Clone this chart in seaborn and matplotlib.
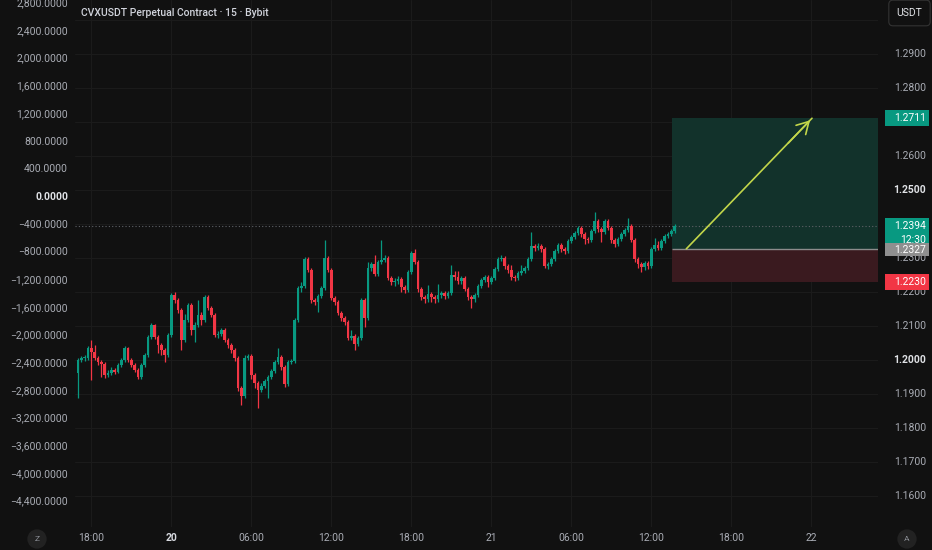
import numpy as np
import pandas as pd
import matplotlib
matplotlib.use("Agg")
import matplotlib.pyplot as plt
import matplotlib.transforms as mtransforms
from matplotlib.patches import Rectangle
import seaborn as sns

# ---------------- data ----------------
title = "CVXUSDT Perpetual Contract · 15 · Bybit"
first_open = 1.1962
closes = [
    1.2000, 1.2006, 1.2006, 1.2035, 1.2024, 1.2006, 1.1994, 1.1988, 1.1956, 1.1962,
    1.1971, 1.1965, 1.1985, 1.2000, 1.2035, 1.2000, 1.1985, 1.1971, 1.1950, 1.1985,
    1.2015, 1.2068, 1.2103, 1.2068, 1.2044, 1.2029, 1.2015, 1.2074, 1.2191, 1.2176,
    1.2147, 1.2059, 1.2118, 1.2162, 1.2088, 1.2103, 1.2132, 1.2118, 1.2185, 1.2153,
    1.2132, 1.2074, 1.2076, 1.2088, 1.2059, 1.2044, 1.2029, 1.2006, 1.1918, 1.1894,
    1.2006, 1.2012, 1.1956, 1.1932, 1.1912, 1.1924, 1.1938, 1.1950, 1.1968, 1.1994,
    1.2009, 1.1979, 1.1929, 1.1994, 1.1997, 1.2118, 1.2212, 1.2218, 1.2297, 1.2265,
    1.2176, 1.2171, 1.2188, 1.2212, 1.2300, 1.2265, 1.2182, 1.2171, 1.2138, 1.2123,
    1.2112, 1.2065, 1.2071, 1.2047, 1.2065, 1.2176, 1.2123, 1.2270, 1.2282, 1.2253,
    1.2288, 1.2294, 1.2300, 1.2241, 1.2229, 1.2232, 1.2238, 1.2215, 1.2206, 1.2259,
    1.2315, 1.2288, 1.2209, 1.2185, 1.2179, 1.2194, 1.2185, 1.2179, 1.2191, 1.2197,
    1.2188, 1.2197, 1.2250, 1.2244, 1.2232, 1.2241, 1.2209, 1.2185, 1.2179, 1.2191,
    1.2218, 1.2235, 1.2244, 1.2229, 1.2241, 1.2268, 1.2297, 1.2300, 1.2276, 1.2265,
    1.2244, 1.2241, 1.2256, 1.2262, 1.2270, 1.2297, 1.2335, 1.2329, 1.2335, 1.2326,
    1.2276, 1.2282, 1.2297, 1.2320, 1.2338, 1.2326, 1.2320, 1.2350, 1.2362, 1.2373,
    1.2388, 1.2370, 1.2356, 1.2353, 1.2379, 1.2409, 1.2385, 1.2376, 1.2409, 1.2388,
    1.2353, 1.2341, 1.2356, 1.2370, 1.2382, 1.2394, 1.2353, 1.2297, 1.2282, 1.2273,
    1.2285, 1.2276, 1.2326, 1.2338, 1.2329, 1.2350, 1.2365, 1.2370, 1.2379, 1.2394,
]
highs = [
    1.2006, 1.2012, 1.2015, 1.2041, 1.2059, 1.2044, 1.2012, 1.2000, 1.1994, 1.1971,
    1.1979, 1.1977, 1.1991, 1.2006, 1.2041, 1.2038, 1.2006, 1.1991, 1.1977, 1.1991,
    1.2021, 1.2074, 1.2109, 1.2106, 1.2074, 1.2050, 1.2035, 1.2080, 1.2197, 1.2200,
    1.2182, 1.2153, 1.2135, 1.2168, 1.2168, 1.2112, 1.2176, 1.2141, 1.2191, 1.2191,
    1.2159, 1.2138, 1.2085, 1.2094, 1.2094, 1.2065, 1.2050, 1.2035, 1.2012, 1.1924,
    1.2015, 1.2018, 1.2018, 1.1962, 1.1938, 1.1932, 1.1944, 1.1956, 1.1974, 1.2000,
    1.2035, 1.2015, 1.1985, 1.2000, 1.2003, 1.2124, 1.2218, 1.2229, 1.2303, 1.2303,
    1.2271, 1.2182, 1.2194, 1.2218, 1.2353, 1.2306, 1.2271, 1.2188, 1.2176, 1.2144,
    1.2129, 1.2118, 1.2088, 1.2076, 1.2071, 1.2182, 1.2182, 1.2288, 1.2288, 1.2309,
    1.2294, 1.2353, 1.2309, 1.2306, 1.2247, 1.2241, 1.2247, 1.2244, 1.2221, 1.2265,
    1.2321, 1.2326, 1.2294, 1.2215, 1.2191, 1.2221, 1.2200, 1.2191, 1.2224, 1.2203,
    1.2203, 1.2203, 1.2279, 1.2262, 1.2262, 1.2247, 1.2247, 1.2215, 1.2191, 1.2197,
    1.2224, 1.2241, 1.2250, 1.2250, 1.2247, 1.2274, 1.2303, 1.2309, 1.2306, 1.2282,
    1.2279, 1.2250, 1.2262, 1.2279, 1.2276, 1.2303, 1.2376, 1.2341, 1.2344, 1.2341,
    1.2332, 1.2288, 1.2303, 1.2326, 1.2344, 1.2344, 1.2332, 1.2356, 1.2368, 1.2379,
    1.2394, 1.2394, 1.2376, 1.2362, 1.2385, 1.2435, 1.2415, 1.2391, 1.2415, 1.2415,
    1.2394, 1.2359, 1.2362, 1.2376, 1.2388, 1.2418, 1.2400, 1.2359, 1.2303, 1.2288,
    1.2291, 1.2291, 1.2332, 1.2359, 1.2350, 1.2356, 1.2371, 1.2376, 1.2385, 1.2400,
]
lows = [
    1.1888, 1.1994, 1.1997, 1.2000, 1.1941, 1.2000, 1.1985, 1.1950, 1.1947, 1.1950,
    1.1956, 1.1959, 1.1962, 1.1979, 1.1994, 1.1994, 1.1979, 1.1965, 1.1944, 1.1944,
    1.1979, 1.2009, 1.2062, 1.2062, 1.2021, 1.2015, 1.1994, 1.2009, 1.2068, 1.2168,
    1.2138, 1.2029, 1.2053, 1.2112, 1.2074, 1.2053, 1.2097, 1.2103, 1.2112, 1.2147,
    1.2126, 1.2068, 1.2065, 1.2071, 1.2053, 1.2035, 1.2021, 1.1997, 1.1909, 1.1868,
    1.1888, 1.2000, 1.1944, 1.1918, 1.1859, 1.1906, 1.1918, 1.1888, 1.1944, 1.1962,
    1.1988, 1.1971, 1.1921, 1.1924, 1.1988, 1.1991, 1.2112, 1.2200, 1.2212, 1.2259,
    1.2168, 1.2162, 1.2141, 1.2182, 1.2206, 1.2259, 1.2176, 1.2162, 1.2132, 1.2115,
    1.2103, 1.2059, 1.2059, 1.2029, 1.2041, 1.2059, 1.2097, 1.2118, 1.2262, 1.2247,
    1.2247, 1.2282, 1.2288, 1.2235, 1.2221, 1.2218, 1.2224, 1.2200, 1.2197, 1.2200,
    1.2253, 1.2282, 1.2200, 1.2176, 1.2168, 1.2171, 1.2171, 1.2168, 1.2171, 1.2182,
    1.2179, 1.2182, 1.2191, 1.2235, 1.2224, 1.2224, 1.2203, 1.2176, 1.2153, 1.2171,
    1.2185, 1.2212, 1.2229, 1.2215, 1.2224, 1.2235, 1.2262, 1.2291, 1.2268, 1.2256,
    1.2235, 1.2232, 1.2235, 1.2250, 1.2256, 1.2265, 1.2291, 1.2320, 1.2323, 1.2318,
    1.2270, 1.2268, 1.2276, 1.2291, 1.2315, 1.2318, 1.2312, 1.2315, 1.2344, 1.2356,
    1.2368, 1.2362, 1.2341, 1.2344, 1.2347, 1.2373, 1.2376, 1.2347, 1.2370, 1.2382,
    1.2344, 1.2332, 1.2335, 1.2350, 1.2365, 1.2376, 1.2347, 1.2288, 1.2270, 1.2259,
    1.2265, 1.2268, 1.2270, 1.2320, 1.2323, 1.2323, 1.2344, 1.2359, 1.2365, 1.2373,
]

time_tick_bars = [4, 28, 52, 76, 100, 124, 148, 172, 196, 220]
time_tick_labels = ["18:00", "20", "06:00", "12:00", "18:00", "21", "06:00", "12:00", "18:00", "22"]
right_ticks = [1.29, 1.28, 1.26, 1.25, 1.23, 1.22, 1.21, 1.20, 1.19, 1.18, 1.17, 1.16]
right_bold = [1.25, 1.20]
grid_levels = [1.16, 1.17, 1.18, 1.19, 1.20, 1.21, 1.22, 1.23, 1.24, 1.25, 1.26, 1.27, 1.28, 1.29, 1.30]
left_ticks = [2800, 2400, 2000, 1600, 1200, 800, 400, 0, -400, -800, -1200, -1600,
              -2000, -2400, -2800, -3200, -3600, -4000, -4400]

last_price = 1.2394
countdown = "12:30"
entry_price = 1.2327
target_price = 1.2711
stop_price = 1.2230

# ---------------- style ----------------
BG = "#111111"
GRID = "#1b1b1b"
TXT = "#a9acb4"
UP = "#089981"
DOWN = "#f23645"

sns.set_theme(style="dark", rc={
    "axes.facecolor": BG, "figure.facecolor": BG, "savefig.facecolor": BG,
    "axes.edgecolor": BG, "text.color": TXT, "xtick.color": TXT, "ytick.color": TXT,
})
plt.rcParams["font.family"] = ["Roboto", "DejaVu Sans"]

W, H = 932, 550
fig = plt.figure(figsize=(W / 100, H / 100), dpi=100)
pane_left, pane_right, pane_bottom = 75, 878, 527
pos = [pane_left / W, (H - pane_bottom) / H, (pane_right - pane_left) / W, pane_bottom / H]
ax = fig.add_axes(pos)
ax.set_facecolor(BG)

PX_PER_UNIT = 3400.0  # price-scale pixels per 1.0 of price
bar_px = 80 / 24.0
first_bar_px = 78
ax.set_xlim((pane_left - first_bar_px) / bar_px, (pane_right - first_bar_px) / bar_px)
ax.set_ylim(1.2 - (pane_bottom - 360) / PX_PER_UNIT, 1.2 + 360 / PX_PER_UNIT)

for s in ax.spines.values():
    s.set_visible(False)
ax.set_yticks([])
ax.tick_params(axis="x", length=0, pad=4, labelsize=7.5, labelcolor=TXT)
ax.set_xticks(time_tick_bars)
ax.set_xticklabels(time_tick_labels)
for lab in ax.get_xticklabels():
    if lab.get_text() == "20":
        lab.set_fontweight("bold")
        lab.set_color("#d8dae0")

# grid
for g in grid_levels:
    ax.axhline(g, color=GRID, lw=0.8, zorder=0)
for t in time_tick_bars:
    ax.axvline(t, color=GRID, lw=0.8, zorder=0)

# ---------------- candles ----------------
opens = [first_open] + closes[:-1]
df = pd.DataFrame({"bar": np.arange(len(closes)), "open": opens, "high": highs,
                   "low": lows, "close": closes})
df["up"] = df["close"] >= df["open"]
df["color"] = np.where(df["up"], UP, DOWN)
df["body_lo"] = df[["open", "close"]].min(axis=1)
df["body_h"] = (df["close"] - df["open"]).abs().clip(lower=0.0002)

# position tool (drawn beneath candles)
tool_start, tool_end = 178.2, 240
ax.add_patch(Rectangle((tool_start, entry_price), tool_end - tool_start, target_price - entry_price,
                       facecolor="#12322b", edgecolor="none", zorder=1))
ax.add_patch(Rectangle((tool_start, stop_price), tool_end - tool_start, entry_price - stop_price,
                       facecolor="#3a1a1f", edgecolor="none", zorder=1))
ax.hlines(entry_price, tool_start, tool_end, color="#8c8c8c", lw=1.0, zorder=2)

# current price dotted line
ax.axhline(last_price, color="#5f6268", lw=0.8, ls=(0, (1, 2)), zorder=2)

ax.vlines(df["bar"], df["low"], df["high"], colors=df["color"], lw=0.9, zorder=3)
ax.bar(df["bar"], df["body_h"], bottom=df["body_lo"], width=0.85, color=df["color"],
       linewidth=0, zorder=4)

# arrow (seaborn for the shaft)
arrow_x = [182.5, 220.2]
arrow_y = [entry_price, target_price]
sns.lineplot(x=arrow_x, y=arrow_y, ax=ax, color="#c2d64a", lw=1.2, zorder=5)
ax.annotate("", xy=(arrow_x[1], arrow_y[1]), xytext=(arrow_x[0] + 30, arrow_y[0] + 0.0305),
            arrowprops=dict(arrowstyle="->,head_length=0.7,head_width=0.4", color="#c2d64a", lw=1.2),
            zorder=6)

# ---------------- right price scale ----------------
rtrans = mtransforms.blended_transform_factory(fig.transFigure, ax.transData)
rx = 926 / W
for p in right_ticks:
    bold = p in right_bold
    ax.text(rx, p, f"{p:.4f}", transform=rtrans, ha="right", va="center", fontsize=7.5,
            color="#e0e2e6" if bold else TXT, fontweight="bold" if bold else "normal",
            clip_on=False, zorder=10)

badge_x0, badge_x1 = 885 / W, 929 / W

def badge(top_px_above, bottom_px_below, center, fc, lines, z, text_shift_px=0.0, line_gap_px=14):
    y0 = center - bottom_px_below / PX_PER_UNIT
    h = (top_px_above + bottom_px_below) / PX_PER_UNIT
    ax.add_patch(Rectangle((badge_x0, y0), badge_x1 - badge_x0, h, transform=rtrans,
                           fc=fc, ec="none", clip_on=False, zorder=z))
    for k, t in enumerate(lines):
        ax.text(rx, center - (k * line_gap_px + text_shift_px) / PX_PER_UNIT, t, transform=rtrans,
                ha="right", va="center", fontsize=7.5, color="white", clip_on=False, zorder=z + 1)

badge(8, 8, target_price, UP, [f"{target_price:.4f}"], z=20)
badge(5.5, 7.5, entry_price, "#8f8f8f", [f"{entry_price:.4f}"], z=18, text_shift_px=1)
badge(8, 17, last_price, UP, [f"{last_price:.4f}", countdown], z=22)
badge(8, 8, stop_price, DOWN, [f"{stop_price:.4f}"], z=20)

# ---------------- left scale (independent overlay axes) ----------------
ax2 = fig.add_axes(pos, frameon=False)
ax2.set_ylim(-(pane_bottom - 197) / 27.7 * 400, 197 / 27.7 * 400)
ax2.set_xticks([])
ax2.set_yticks([])
ax2.patch.set_visible(False)
ltrans = mtransforms.blended_transform_factory(fig.transFigure, ax2.transData)
for v in left_ticks:
    lab = f"{v:,.4f}".replace("-", "\u2212")
    bold = v == 0
    ax2.text(68 / W, v, lab, transform=ltrans, ha="right", va="center", fontsize=7.5,
             color="#e0e2e6" if bold else TXT, fontweight="bold" if bold else "normal",
             clip_on=False)

# ---------------- header / footer ----------------
fig.text(81 / W, 1 - 13 / H, title, ha="left", va="center", fontsize=7.5, color="#d1d4dc",
         fontweight="medium")
fig.text(909.5 / W, 1 - 13 / H, "USDT", ha="center", va="center", fontsize=7.5, color="#e0e2e6",
         bbox=dict(boxstyle="round,pad=0.75,rounding_size=0.4", fc=BG, ec="#333333", lw=0.8))
for xpx, letter in [(37, "Z"), (907, "A")]:
    fig.text(xpx / W, 1 - 539 / H, letter, ha="center", va="center", fontsize=6, color="#8a8d94",
             bbox=dict(boxstyle="circle,pad=0.8", fc="#222222", ec="none"))

fig.savefig("out.png", dpi=100, facecolor=BG)
